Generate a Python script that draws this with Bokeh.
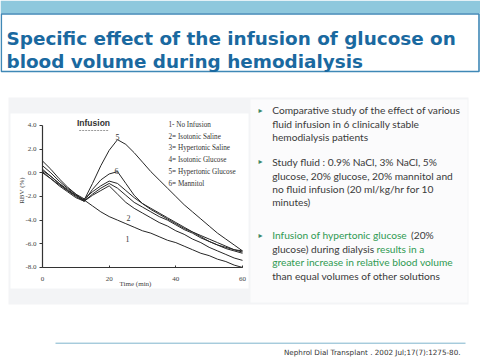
from bokeh.plotting import figure
from bokeh.models import Range1d, LinearAxis, FixedTicker, PrintfTickFormatter, ColumnDataSource
from bokeh.core.properties import value
from bokeh.embed import file_html
from bokeh.resources import INLINE
import math

# ---------------- data ----------------
time_min = [0, 2.5, 5, 7.5, 10, 12.5, 15, 17.5, 20, 22.5, 25, 27.5, 30,
            32.5, 35, 37.5, 40, 42.5, 45, 47.5, 50, 52.5, 55, 57.5, 60]
no_infusion = [0.0, -0.5, -1.0, -1.5, -1.9, -2.3, -2.8, -3.3, -3.7, -4.0, -4.3, -4.6, -4.9,
               -5.1, -5.4, -5.7, -5.9, -6.2, -6.5, -6.8, -7.0, -7.3, -7.5, -7.8, -8.0]
isotonic_saline = [0.1, -0.5, -1.1, -1.6, -2.1, -2.4, -1.9, -1.5, -1.1, -1.8, -2.5, -3.0, -3.4,
                   -3.8, -4.2, -4.5, -4.9, -5.2, -5.6, -5.9, -6.3, -6.6, -6.9, -7.2, -7.4]
hypertonic_saline = [0.6, 0.0, -0.7, -1.3, -1.8, -2.2, -1.6, -1.1, -0.7, -0.9, -1.5, -2.1, -2.6,
                     -3.0, -3.4, -3.8, -4.2, -4.6, -5.0, -5.3, -5.6, -5.9, -6.2, -6.5, -6.7]
isotonic_glucose = [0.2, -0.3, -0.9, -1.5, -2.0, -2.4, -1.8, -1.3, -0.9, -1.3, -1.9, -2.5, -2.9,
                    -3.3, -3.7, -4.0, -4.4, -4.8, -5.1, -5.5, -5.8, -6.1, -6.3, -6.5, -6.6]
hypertonic_glucose = [0.3, -0.3, -0.9, -1.4, -1.9, -2.3, -0.9, 0.6, 1.9, 2.8, 2.4, 1.7, 0.9,
                      0.1, -0.6, -1.3, -2.0, -2.7, -3.3, -3.9, -4.5, -5.1, -5.6, -6.1, -6.6]
mannitol = [1.0, 0.3, -0.5, -1.2, -1.8, -2.4, -1.4, -0.6, -0.1, 0.1, -0.9, -1.9, -2.6,
            -3.1, -3.5, -3.9, -4.3, -4.7, -5.0, -5.4, -5.8, -6.1, -6.4, -6.6, -6.8]
series = [no_infusion, isotonic_saline, hypertonic_saline, isotonic_glucose, hypertonic_glucose, mannitol]
legend_labels = ["1- No Infusion", "2= Isotonic Saline", "3= Hypertonic Saline",
                 "4= Isotonic Glucose", "5= Hypertonic Glucose", "6= Mannitol"]
curve_tags = ["5", "6", "2", "1"]
infusion_period = [11, 20]
y_ticks = [-8, -6, -4, -2, 0, 2, 4]
x_ticks = [0, 20, 40, 60]

title_lines = ["Specific effect of the infusion of glucose on", "blood volume during hemodialysis"]
citation = "Nephrol Dial Transplant . 2002 Jul;17(7):1275-80."

# ---------------- layout helpers (slide px -> data) ----------------
W, H = 480, 360
PX0, PXS = 42.0, 200.0 / 60.0
PY0, PYS = 172.3, 142.0 / 12.0
def X(sx): return (sx - PX0) / PXS
def Y(sy): return (PY0 - sy) / PYS
def fs(v): return value(f"{v:.2f}px")

p = figure(width=W, height=H, x_range=Range1d(X(0), X(480)), y_range=Range1d(Y(360), Y(0)),
           output_backend="svg", toolbar_location=None, min_border=0,
           x_axis_type=None, y_axis_type=None)
p.outline_line_color = None
p.background_fill_color = "white"
p.border_fill_color = "white"

def box(x0, x1, y0, y1, fill, line=None, lw=1):
    p.quad(left=[X(x0)], right=[X(x1)], top=[Y(y0)], bottom=[Y(y1)], fill_color=fill,
           line_color=line, line_width=lw)

# top band and title box
box(0, 480, 0, 13, "#8ec8dd")
box(0.8, 478.5, 13.5, 71, "white", "#3f88b6", 1.6)
for i, t in enumerate(title_lines):
    p.text(x=[X(6)], y=[Y(37.7 + 23.3 * i)], text=[t], text_font=value("DejaVu Sans"),
           text_font_style="bold", text_font_size=fs(18.4), text_color="#1a69a0",
           text_baseline="alphabetic", text_align="left")

# content panel
box(8, 468, 97, 304, "#f3f4f6")
box(10, 248, 113, 288, "white")
box(250, 467, 99, 302, "#fbfbfc")

# ---------------- chart ----------------
yax = LinearAxis(fixed_location=0, bounds=(-8, 4), ticker=FixedTicker(ticks=y_ticks),
                 formatter=PrintfTickFormatter(format="%.1f"))
xax = LinearAxis(fixed_location=-8, bounds=(0, 60), ticker=FixedTicker(ticks=x_ticks))
for ax in (yax, xax):
    ax.axis_line_color = "#333333"
    ax.axis_line_width = 1.2
    ax.major_tick_line_color = "#333333"
    ax.minor_tick_line_color = None
    ax.major_label_text_font = "Liberation Serif"
    ax.major_label_text_font_size = "7px"
    ax.major_label_text_color = "#444444"
yax.major_tick_in = 0
yax.major_tick_out = 3
yax.major_label_standoff = 3
xax.major_tick_in = 2
xax.major_tick_out = 0
xax.major_label_standoff = 10
p.add_layout(yax, "left")
p.add_layout(xax, "below")

for s in series:
    p.line(time_min, s, line_color="#262626", line_width=1)

# infusion marker
p.line(infusion_period, [Y(130)] * 2, line_color="#9a9a9a", line_width=1.2, line_dash="2 1")
p.text(x=[X(93)], y=[Y(122)], text=["Infusion"], text_font=value("Liberation Sans"),
       text_font_style="bold", text_font_size=fs(8.5), text_color="#333333",
       text_baseline="middle", text_align="center")

# legend
p.text(x=[X(168)] * len(legend_labels), y=[Y(124.3 + 11.8 * i) for i in range(len(legend_labels))],
       text=legend_labels, text_font=value("Liberation Serif"), text_font_size=fs(7.2),
       text_color="#333333", text_baseline="middle", text_align="left")

# curve tags
tag_pos = [(117, 136), (116, 170), (128, 217), (127, 238)]
p.text(x=[X(a) for a, b in tag_pos], y=[Y(b) for a, b in tag_pos], text=curve_tags,
       text_font=value("Liberation Serif"), text_font_size=fs(8), text_color="#333333",
       text_baseline="middle", text_align="center")

# axis titles
p.text(x=[X(21)], y=[Y(190)], text=["RBV (%)"], angle=math.pi / 2,
       text_font=value("Liberation Serif"), text_font_size=fs(7), text_color="#444444",
       text_baseline="middle", text_align="center")
p.text(x=[X(135)], y=[Y(283)], text=["Time (min)"],
       text_font=value("Liberation Serif"), text_font_size=fs(7), text_color="#444444",
       text_baseline="middle", text_align="center")

# ---------------- bullets ----------------
dark, green = "#3a3a3a", "#2f9a52"
segments = [
    (271.7, 109.3, "Comparative study of the effect of various", dark),
    (271.7, 123.3, "fluid infusion in 6 clinically stable", dark),
    (271.7, 136.7, "hemodialysis patients", dark),
    (271.7, 161.0, "Study fluid : 0.9% NaCl, 3% NaCl, 5%", dark),
    (271.7, 175.0, "glucose, 20% glucose, 20% mannitol and", dark),
    (271.7, 188.3, "no fluid infusion (20 ml/kg/hr for 10", dark),
    (271.7, 201.7, "minutes)", dark),
    (271.7, 234.3, "Infusion of hypertonic glucose", green),
    (410.5, 234.3, "(20%", dark),
    (271.7, 248.3, "glucose) during dialysis", dark),
    (376.0, 248.3, "results in a", green),
    (271.7, 261.7, "greater increase in relative blood volume", green),
    (271.7, 275.7, "than equal volumes of other solutions", dark),
]
src = ColumnDataSource(dict(x=[X(s[0]) for s in segments], y=[Y(s[1]) for s in segments],
                            text=[s[2] for s in segments], color=[s[3] for s in segments]))
p.text(x="x", y="y", text="text", text_color="color", source=src, text_font=value("Lato"),
       text_font_size=fs(10.2), text_baseline="middle", text_align="left")
p.text(x=[X(260)] * 3, y=[Y(109.5), Y(161.2), Y(234.5)], text=["\u25B8"] * 3,
       text_font=value("DejaVu Sans"), text_font_size=fs(8), text_color="#3c8a68",
       text_baseline="middle", text_align="center")

# ---------------- footer ----------------
p.line([X(55), X(465)], [Y(342.7)] * 2, line_color="#7fb4cc", line_width=1)
p.text(x=[X(460)], y=[Y(351.5)], text=[citation], text_font=value("DejaVu Sans"),
       text_font_size=fs(7.2), text_color="#333333", text_baseline="middle", text_align="right")

open("out.html", "w").write(file_html(p, INLINE))
